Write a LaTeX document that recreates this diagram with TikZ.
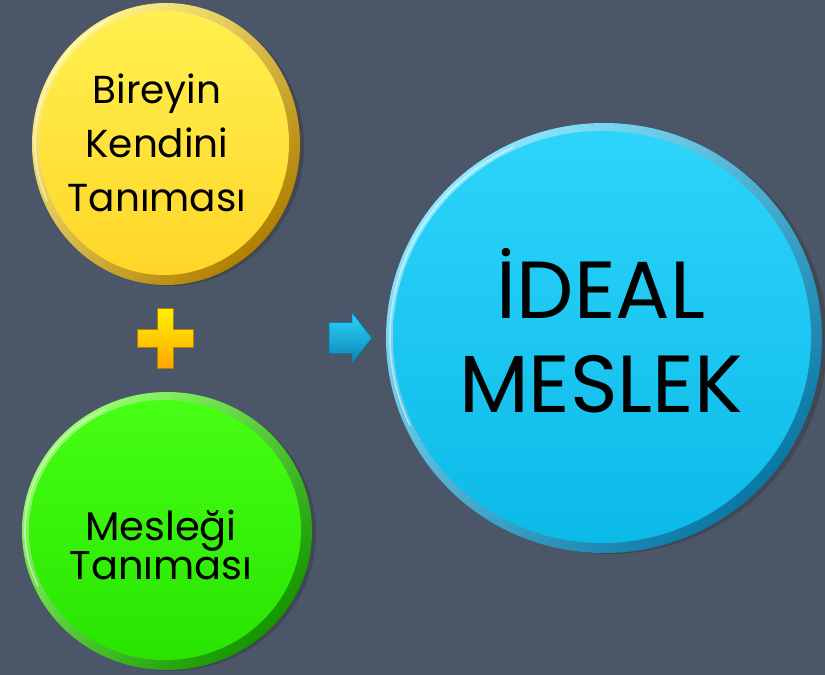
\documentclass[tikz,border=0pt]{standalone}
\usepackage{fontspec}
\setmainfont{Poppins}
\usetikzlibrary{shapes.geometric,calc}
\definecolor{bg}{RGB}{75,86,104}
\definecolor{yrimL}{RGB}{255,243,140}
\definecolor{yrimD}{RGB}{176,128,0}
\definecolor{yfaceT}{RGB}{255,240,80}
\definecolor{yfaceB}{RGB}{255,214,40}
\definecolor{grimL}{RGB}{150,255,110}
\definecolor{grimD}{RGB}{20,150,0}
\definecolor{gfaceT}{RGB}{70,255,20}
\definecolor{gfaceB}{RGB}{40,228,0}
\definecolor{brimL}{RGB}{140,230,255}
\definecolor{brimD}{RGB}{10,120,165}
\definecolor{bfaceT}{RGB}{45,212,250}
\definecolor{bfaceB}{RGB}{12,186,232}
\definecolor{edge}{RGB}{60,62,66}
\tikzset{
  coin/.style={ellipse, inner sep=0pt, outer sep=0pt},
  edgeshape/.style={coin, fill=edge, opacity=0.55},
  gloss/.style={white, opacity=0.5, line width=1.5pt, line cap=round},
  label/.style={align=center, text=black, inner sep=0pt}
}
\begin{document}
\begin{tikzpicture}[x=1pt,y=-1pt]
\fill[bg] (0,0) rectangle (825,675);
\useasboundingbox (0,0) rectangle (825,675);

% ---------- yellow coin ----------
\node[edgeshape, minimum width=268, minimum height=280] (yedge) at (170,146) {};
\node[coin, minimum width=268, minimum height=282, left color=yrimL, right color=yrimD, shading angle=45] (self) at (166,144) {};
\node[coin, minimum width=250, minimum height=264, top color=yfaceT, bottom color=yfaceB] (selfface) at (164,143) {};
\draw[gloss] (selfface.center) ++(-115:129 and 136) arc[start angle=-115, end angle=-205, x radius=129, y radius=136];
\node[label, font=\fontsize{39}{54}\selectfont] (selftext) at (157,143) {Bireyin\\Kendini\\Tanıması};

% ---------- green coin ----------
\node[edgeshape, minimum width=290, minimum height=276] (gedge) at (171,533) {};
\node[coin, minimum width=290, minimum height=278, left color=grimL, right color=grimD, shading angle=45] (job) at (167,531) {};
\node[coin, minimum width=272, minimum height=260, top color=gfaceT, bottom color=gfaceB] (jobface) at (165,530) {};
\draw[gloss] (jobface.center) ++(-115:140 and 133) arc[start angle=-115, end angle=-205, x radius=140, y radius=133];
\node[label, font=\fontsize{40}{37}\selectfont] (jobtext) at (161,545) {Mesleği\\Tanıması};

% ---------- blue coin ----------
\node[edgeshape, minimum width=436, minimum height=428] (bedge) at (609,340) {};
\node[coin, minimum width=436, minimum height=430, left color=brimL, right color=brimD, shading angle=45] (ideal) at (604,338) {};
\node[coin, minimum width=418, minimum height=412, top color=bfaceT, bottom color=bfaceB] (idealface) at (602,337) {};
\draw[gloss] (idealface.center) ++(-115:212 and 209) arc[start angle=-115, end angle=-205, x radius=212, y radius=209];
\node[label, font=\fontsize{81}{94}\selectfont] (idealtext) at (601,331) {İDEAL\\MESLEK};

% ---------- plus sign ----------
\coordinate (plus) at (165,338);
\shade[top color=yellow!90!orange, bottom color=orange!70!yellow, draw=yrimD, line width=0.8pt]
  ($(plus)+(-8,-30)$) -- ++(16,0) -- ++(0,21) -- ++(20,0) -- ++(0,18) -- ++(-20,0) -- ++(0,21) -- ++(-16,0) -- ++(0,-21) -- ++(-20,0) -- ++(0,-18) -- ++(20,0) -- cycle;

% ---------- arrow ----------
\coordinate (arrow) at (329,338);
\fill[top color=bfaceT, bottom color=brimD!80!bfaceB, draw=brimD, line width=0.8pt]
  ($(arrow)+(0,-15.5)$) -- ++(23,0) -- ++(0,-10) -- ++(20,25.5) -- ++(-20,25.5) -- ++(0,-10) -- ++(-23,0) -- cycle;
\end{tikzpicture}
\end{document}
